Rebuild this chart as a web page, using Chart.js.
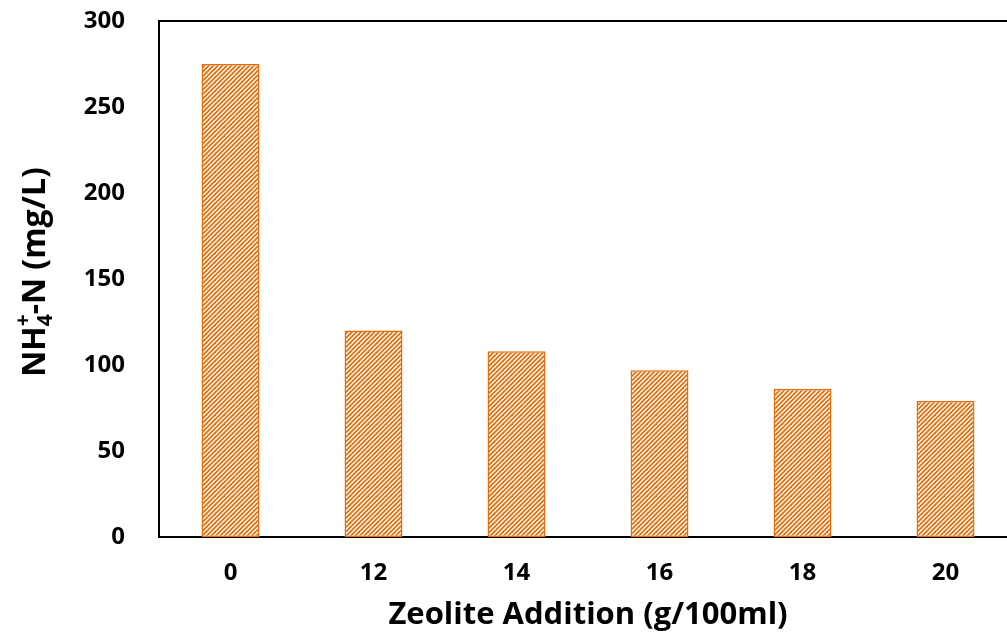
<!DOCTYPE html>
<html>
<head>
<meta charset="utf-8">
<script src="https://cdn.jsdelivr.net/npm/chart.js@4.4.0/dist/chart.umd.min.js"></script>
<style>
html, body { margin: 0; padding: 0; overflow: hidden; background: #fff; }
</style>
</head>
<body>
<canvas id="chart" width="1030" height="644"></canvas>
<script>
// data
const zeoliteDoses = ['0', '12', '14', '16', '18', '20'];
const ammoniumN = [275, 120, 108, 97, 86, 79];
const yMin = 0, yMax = 300, yStep = 50;

const orange = 'rgb(228, 110, 12)';
const fontFamily = '"Open Sans", Lato, sans-serif';

const canvas = document.getElementById('chart');
const ctx = canvas.getContext('2d');

// upward diagonal hatch (Excel "wide upward diagonal"), ~4.5px pitch
function hatch() {
    const size = 9, pitch = 4.5;
    const c = document.createElement('canvas');
    c.width = size;
    c.height = size;
    const g = c.getContext('2d');
    g.fillStyle = '#fff';
    g.fillRect(0, 0, size, size);
    g.strokeStyle = orange;
    g.lineWidth = 1.8;
    for (let k = -2 * size; k <= 3 * size; k += pitch) {
        g.beginPath();
        g.moveTo(k + size, -size);
        g.lineTo(k - 2 * size, 2 * size);
        g.stroke();
    }
    return ctx.createPattern(c, 'repeat');
}

// top edge of the plot frame
const frameTop = {
    id: 'frameTop',
    afterDraw(chart) {
        const a = chart.chartArea;
        const c = chart.ctx;
        c.save();
        c.strokeStyle = '#000';
        c.lineWidth = 2;
        c.beginPath();
        c.moveTo(a.left - 1, a.top);
        c.lineTo(a.right + 20, a.top);
        c.stroke();
        c.restore();
    }
};

// y title with subscript 4 and superscript +
const yTitle = {
    id: 'yTitle',
    afterDraw(chart) {
        const c = chart.ctx;
        const big = 'bold 32px ' + fontFamily;
        const small = 'bold 21px ' + fontFamily;
        c.save();
        c.fillStyle = '#000';
        c.textBaseline = 'alphabetic';
        c.textAlign = 'left';
        c.font = big;
        const w1 = c.measureText('NH').width;
        const w3 = c.measureText('-N (mg/L)').width;
        c.font = small;
        const w2 = Math.max(c.measureText('4').width, c.measureText('+').width);
        const total = w1 + w2 + w3;
        c.translate(45, 272);
        c.rotate(-Math.PI / 2);
        let x = -total / 2;
        c.font = big;
        c.fillText('NH', x, 0);
        x += w1;
        c.font = small;
        c.fillText('4', x, 7);
        c.fillText('+', x, -15);
        x += w2;
        c.font = big;
        c.fillText('-N (mg/L)', x, 0);
        c.restore();
    }
};

const tickFont = { family: fontFamily, size: 24, weight: 'bold' };

new Chart(ctx, {
    type: 'bar',
    data: {
        labels: zeoliteDoses,
        datasets: [{
            label: 'NH4+-N',
            data: ammoniumN,
            backgroundColor: hatch(),
            borderColor: orange,
            borderWidth: 1.5,
            borderSkipped: false,
            barPercentage: 0.405,
            categoryPercentage: 1
        }]
    },
    options: {
        responsive: false,
        animation: false,
        layout: {
            padding: { left: 0, top: 21, right: 13, bottom: 0 }
        },
        plugins: {
            legend: { display: false },
            tooltip: { enabled: false }
        },
        scales: {
            x: {
                grid: { display: false, drawTicks: false },
                border: { display: true, color: '#000', width: 2 },
                ticks: { font: tickFont, color: '#000', padding: 22 },
                title: {
                    display: true,
                    text: 'Zeolite Addition (g/100ml)',
                    color: '#000',
                    font: { family: fontFamily, size: 31, weight: 'bold' },
                    padding: { top: 0, bottom: 10 }
                },
                afterFit(scale) { scale.height = 107; }
            },
            y: {
                min: yMin,
                max: yMax,
                grid: { display: false, drawTicks: false },
                border: { display: true, color: '#000', width: 2 },
                ticks: { stepSize: yStep, font: tickFont, color: '#000', padding: 34 },
                afterFit(scale) {
                    scale.width = 159;
                    scale.paddingTop = 0;
                    scale.paddingBottom = 0;
                }
            }
        }
    },
    plugins: [frameTop, yTitle]
});
</script>
</body>
</html>
